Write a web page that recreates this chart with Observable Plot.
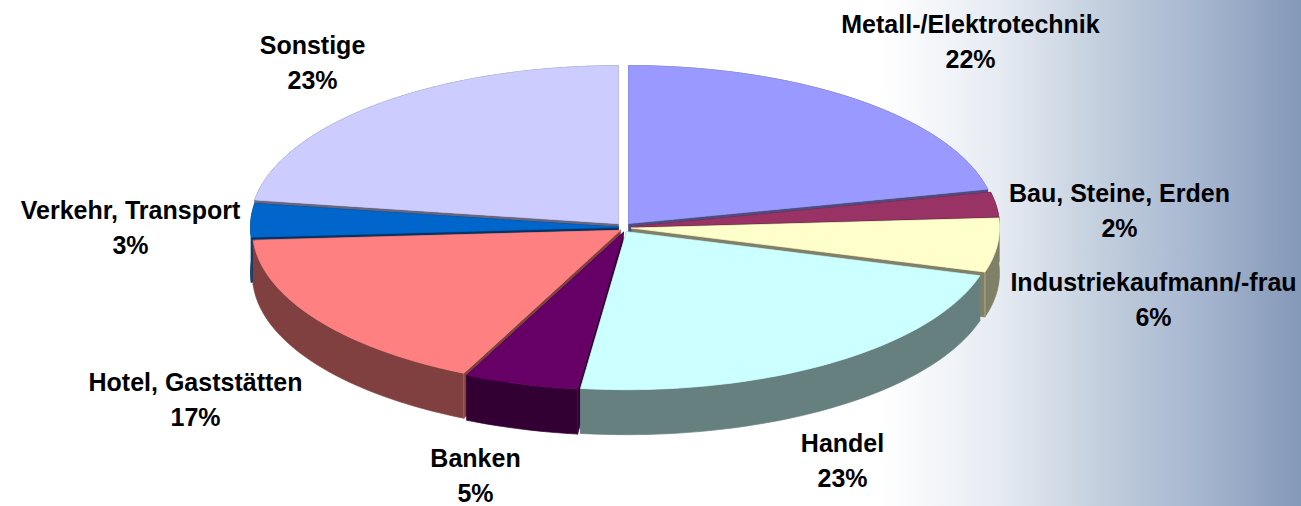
<!DOCTYPE html>
<html lang="de">
<head>
<meta charset="utf-8">
<title>Branchen</title>
<style>
html,body{margin:0;padding:0;background:#fff;overflow:hidden}
svg{display:block}
</style>
<script src="https://cdn.jsdelivr.net/npm/d3@7"></script>
<script src="https://cdn.jsdelivr.net/npm/@observablehq/plot@0.6"></script>
</head>
<body>
<div id="chart"></div>
<script>
const categories = ["Metall-/Elektrotechnik","Bau, Steine, Erden","Industriekaufmann/-frau","Handel","Banken","Hotel, Gaststätten","Verkehr, Transport","Sonstige"];
const shares = [21.5,2.49,5.5,22.5,5.01,17.0,3.4,22.6];
const topColors = ["#9999ff","#993366","#ffffcc","#ccffff","#660066","#ff8080","#0066cc","#ccccff"];
const wallColors = ["#4d4d80","#4d1a33","#808066","#668080","#330033","#804040","#003366","#666680"];
const explodeX = [4,7,7,2,-1,-4,-6,-6];
const paintOrder = [0,7,1,6,2,5,4,3];
const labelCentres = [[970,39],[1119,208],[1153,297],[842,458],[475,473],[195,397],[130,225],[312,60]];

const W = 1301, H = 506;
const pie = {cx:624, cy:227, rx:368, ry:158, depth:45, ey:5};
const rad = d => d * Math.PI / 180;

let running = 0;
const slices = shares.map((s,i) => {
  const a0 = running * 3.6; running += s; const a1 = running * 3.6;
  const mid = (a0 + a1) / 2;
  const ox = pie.cx + explodeX[i];
  const oy = pie.cy - pie.ey * Math.cos(rad(mid));
  const at = a => [ox + pie.rx*Math.sin(rad(a)), oy - pie.ry*Math.cos(rad(a))];
  const arc = [...d3.range(a0, a1, 1.5), a1].map(at);
  const cornerAngle = (a1 > 90 && a1 < 180) ? a1 : (a0 > 180 && a0 < 270) ? a0 : null;
  return {i, mid, apex:[ox,oy], arc, corner: cornerAngle === null ? null : at(cornerAngle)};
});

const down = ([x,y]) => [x, y + pie.depth];
const polys = [];
let z = 0;
const addPoly = (pts, color) => { z++; for (const [x,y] of pts) polys.push({x, y, z, color}); };
for (const s of paintOrder.map(i => slices[i])) {
  const wall = wallColors[s.i], top = topColors[s.i];
  const first = s.arc[0], last = s.arc[s.arc.length-1];
  addPoly([s.apex, first, down(first), down(s.apex)], wall);
  addPoly([s.apex, last, down(last), down(s.apex)], wall);
  addPoly([...s.arc, ...s.arc.map(down).reverse()], wall);
  if (s.corner) addPoly([s.corner, down(s.corner)], d3.interpolateRgb(wall, top)(0.5));
  addPoly([s.apex, ...s.arc, s.apex], top);
}

const labels = categories.map((c,i) => ({x: labelCentres[i][0], y: labelCentres[i][1], text: `${c}\n${Math.round(shares[i])}%`}));

document.getElementById("chart").append(Plot.plot({
  width: W, height: H, margin: 0,
  style: {background: "linear-gradient(to right,#fff 0,#fff 880px,#e6ebf2 1000px,#c3cfde 1100px,#a6b6cf 1200px,#8498b8 1301px)"},
  x: {domain:[0,W], range:[0,W], axis:null},
  y: {domain:[0,H], range:[0,H], axis:null},
  color: {type:"identity"},
  marks: [
    Plot.line(polys, {x:"x", y:"y", z:"z", fill:"color", stroke:"color", strokeWidth:0.7}),
    Plot.text(labels, {x:"x", y:"y", text:"text", fontFamily:"Liberation Sans", fontWeight:"bold", fontSize:25, lineHeight:1.38, fill:"#000"})
  ]
}));
</script>
</body>
</html>
